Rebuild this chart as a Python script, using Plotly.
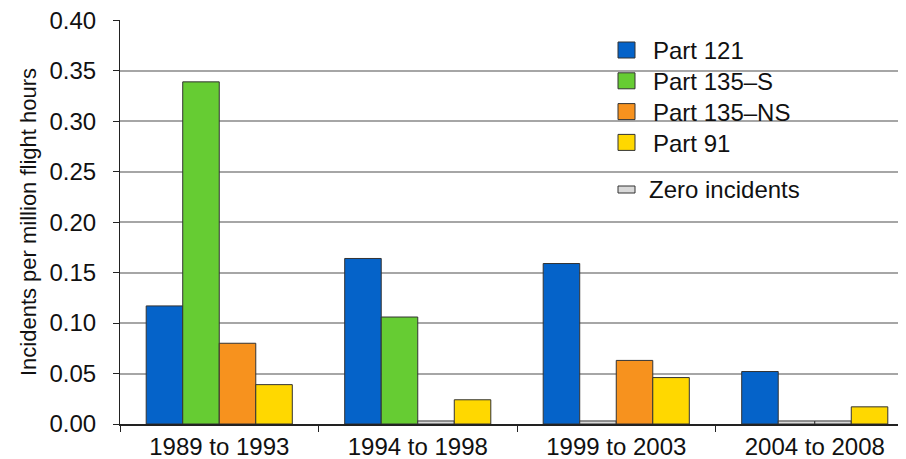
import plotly.graph_objects as go

periods = ["1989 to 1993", "1994 to 1998", "1999 to 2003", "2004 to 2008"]
series_names = ["Part 121", "Part 135–S", "Part 135–NS", "Part 91"]
series_colors = ["#0563C9", "#66CC33", "#F7921E", "#FFD800"]
part121 = [0.117, 0.164, 0.159, 0.052]
part135s = [0.339, 0.106, 0.0, 0.0]
part135ns = [0.080, 0.0, 0.063, 0.0]
part91 = [0.039, 0.024, 0.046, 0.017]
series_values = [part121, part135s, part135ns, part91]
zero_label = "Zero incidents"
zero_color = "#D9D9D9"
zero_height = 0.003
y_ticks = [0.0, 0.05, 0.10, 0.15, 0.20, 0.25, 0.30, 0.35, 0.40]

FONT = "Liberation Sans, Arial, sans-serif"
fig = go.Figure()
for name, color, vals in zip(series_names, series_colors, series_values):
    ys = [v if v > 0 else zero_height for v in vals]
    cols = [color if v > 0 else zero_color for v in vals]
    fig.add_trace(go.Bar(
        x=periods, y=ys, name=name, showlegend=False,
        marker=dict(color=cols, line=dict(color="#333333", width=1)),
    ))

W, H = 906, 459
OFF = 8  # page body margin
L, R, T, B = 112, 0, 12, 43
pw, ph = W - L - R, H - T - B

def px(x):
    return (x - OFF - L) / pw

def py(y):
    return (H - B - (y - OFF)) / ph

shapes = [dict(type="rect", xref="paper", yref="paper", layer="between",
               x0=px(607), x1=px(793), y0=py(200), y1=py(38),
               fillcolor="white", line=dict(width=0))]
annotations = []
for i, (name, color) in enumerate(zip(series_names, series_colors)):
    cy = 50 + i * 30.8
    shapes.append(dict(type="rect", xref="paper", yref="paper",
                       x0=px(618), x1=px(635), y0=py(cy + 8), y1=py(cy - 8),
                       fillcolor=color, line=dict(color="#333333", width=1)))
    annotations.append(dict(xref="paper", yref="paper", x=px(651), y=py(cy + 1),
                            xanchor="left", yanchor="middle", showarrow=False,
                            text=name, font=dict(family=FONT, size=24, color="#111")))
shapes.append(dict(type="rect", xref="paper", yref="paper",
                   x0=px(618), x1=px(635), y0=py(193), y1=py(186),
                   fillcolor=zero_color, line=dict(color="#333333", width=1)))
annotations.append(dict(xref="paper", yref="paper", x=px(647), y=py(189),
                        xanchor="left", yanchor="middle", showarrow=False,
                        text=zero_label, font=dict(family=FONT, size=24, color="#111")))

fig.update_layout(
    width=W, height=H,
    margin=dict(l=L, r=R, t=T, b=B, pad=0),
    plot_bgcolor="white", paper_bgcolor="white",
    barmode="group", bargap=0.264, bargroupgap=0,
    font=dict(family=FONT, size=24, color="#111"),
    shapes=shapes, annotations=annotations,
    xaxis=dict(range=[-0.5, 3.5], tickson="boundaries", ticks="outside", ticklen=6,
               tickcolor="#222", showline=True, linecolor="#222", linewidth=1.5,
               showgrid=False, tickfont=dict(size=24)),
    yaxis=dict(range=[0, 0.4003], tickvals=y_ticks, tickformat=".2f", ticks="outside",
               ticklen=6, tickcolor="#222", showline=True, linecolor="#222", linewidth=1,
               showgrid=True, gridcolor="#A6A6A6", gridwidth=1.5, zeroline=False,
               ticklabelstandoff=12, ticklabeloverflow="allow", tickfont=dict(size=24),
               title=dict(text="Incidents per million flight hours", font=dict(size=22),
                          standoff=6)),
)
fig.write_html("out.html")
